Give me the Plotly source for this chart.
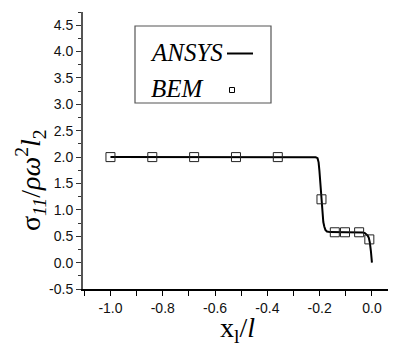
import plotly.graph_objects as go

# ---- data ----
ansys_x = [-1.0, -0.6, -0.3, -0.215, -0.208, -0.204, -0.201, -0.198, -0.195, -0.192,
           -0.189, -0.186, -0.182, -0.178, -0.172, -0.16, -0.1, -0.05, -0.035, -0.027,
           -0.021, -0.016, -0.012, -0.008, -0.004, 0.0]
ansys_y = [2.0, 2.0, 2.0, 1.995, 1.98, 1.9, 1.75, 1.55, 1.3, 1.1,
           0.9, 0.77, 0.68, 0.62, 0.59, 0.578, 0.575, 0.575, 0.57, 0.56,
           0.54, 0.51, 0.47, 0.38, 0.22, 0.0]

bem_x = [-1.0, -0.84, -0.68, -0.52, -0.36, -0.193, -0.142, -0.103, -0.049, -0.010]
bem_y = [2.0, 2.0, 2.0, 2.0, 2.0, 1.2, 0.575, 0.575, 0.575, 0.44]

x_ticks = [-1.0, -0.8, -0.6, -0.4, -0.2, 0.0]
x_ticklabels = ["-1.0", "-0.8", "-0.6", "-0.4", "-0.2", "0.0"]
y_ticks = [-0.5, 0.0, 0.5, 1.0, 1.5, 2.0, 2.5, 3.0, 3.5, 4.0, 4.5]
y_ticklabels = ["-0.5", "0.0", "0.5", "1.0", "1.5", "2.0", "2.5", "3.0", "3.5", "4.0", "4.5"]

x_range = [-1.105, 0.092]
y_range = [-0.5, 4.75]

# ---- layout geometry (pixels) ----
OFF = 8                      # default page body margin
W, H = 396 - OFF, 352 - OFF
ML, MR, MT, MB = 83 - OFF, 0, 12 - OFF, 63
PW, PH = W - ML - MR, H - MT - MB

def px(xp):
    return (xp - OFF - ML) / PW

def py(yp):
    return (H - MB - (yp - OFF)) / PH

fig = go.Figure()
fig.add_trace(go.Scatter(x=ansys_x, y=ansys_y, mode="lines", name="ANSYS",
                         line=dict(color="black", width=2), showlegend=False))
fig.add_trace(go.Scatter(x=bem_x, y=bem_y, mode="markers", name="BEM",
                         marker=dict(symbol="square-open", size=9, color="#222",
                                     line=dict(width=1, color="#222")),
                         showlegend=False))

tickfont = dict(family="Liberation Sans, Arial", size=14, color="#111")
fig.update_xaxes(range=x_range, tickmode="array", tickvals=x_ticks, ticktext=x_ticklabels,
                 automargin=False,
                 showgrid=False, zeroline=False, showline=True,
                 linecolor="black", linewidth=1.5, ticks="outside", ticklen=5,
                 tickcolor="black", tickwidth=1, tickfont=tickfont,
                 minor=dict(dtick=0.1, tick0=0, ticks="outside", ticklen=5,
                            tickcolor="black", tickwidth=1))
fig.update_yaxes(range=y_range, tickmode="array", tickvals=y_ticks, ticktext=y_ticklabels,
                 automargin=False,
                 showgrid=False, zeroline=False, showline=True,
                 linecolor="#555", linewidth=2, ticks="outside", ticklen=5,
                 tickcolor="#333", tickwidth=1, tickfont=tickfont,
                 minor=dict(dtick=0.25, tick0=0, ticks="outside", ticklen=3,
                            tickcolor="#333", tickwidth=1))

serif = "Liberation Serif, Times New Roman, serif"
shapes = [
    dict(type="rect", xref="paper", yref="paper", x0=px(135), x1=px(271),
         y0=py(103), y1=py(26), line=dict(color="#555", width=1.2)),
    dict(type="line", xref="paper", yref="paper", x0=px(227), x1=px(253),
         y0=py(53.5), y1=py(53.5), line=dict(color="black", width=2)),
    dict(type="rect", xref="paper", yref="paper", x0=px(229.5), x1=px(234.5),
         y0=py(92.5), y1=py(87.5), line=dict(color="black", width=1)),
]
annotations = [
    dict(text="<i>ANSYS</i>", xref="paper", yref="paper", x=px(148), y=py(52),
         xanchor="left", yanchor="middle", showarrow=False,
         font=dict(family=serif, size=25, color="black")),
    dict(text="<i>BEM</i>", xref="paper", yref="paper", x=px(149), y=py(88),
         xanchor="left", yanchor="middle", showarrow=False,
         font=dict(family=serif, size=25, color="black")),
    dict(text="σ<sub><i>11</i></sub>/<i>ρω</i><sup>2</sup><i>l</i><sub>2</sub>",
         xref="paper", yref="paper", x=px(30), y=py(180), textangle=-90,
         xanchor="center", yanchor="middle", showarrow=False,
         font=dict(family=serif, size=28, color="black")),
    dict(text="x<sub>l</sub>/<i>l</i>", xref="paper", yref="paper",
         x=px(237), y=py(330), xanchor="center", yanchor="middle", showarrow=False,
         font=dict(family=serif, size=28, color="black")),
]

fig.update_layout(width=W, height=H, margin=dict(l=ML, r=MR, t=MT, b=MB),
                  paper_bgcolor="white", plot_bgcolor="white",
                  shapes=shapes, annotations=annotations, showlegend=False)

fig.write_html("out.html")
